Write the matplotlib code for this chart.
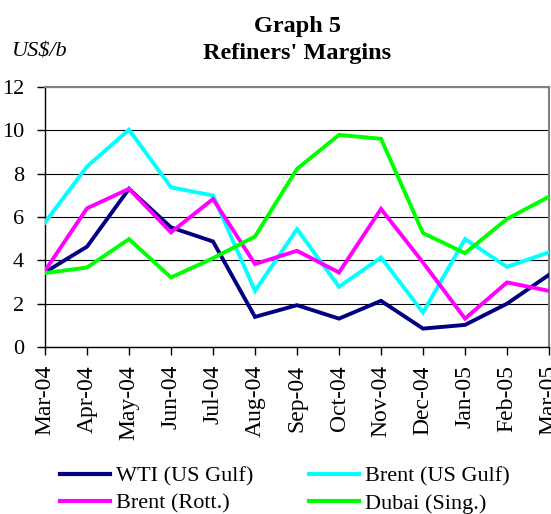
import matplotlib
matplotlib.use("Agg")
import matplotlib.pyplot as plt
from matplotlib.lines import Line2D

months = ["Mar-04", "Apr-04", "May-04", "Jun-04", "Jul-04", "Aug-04", "Sep-04",
          "Oct-04", "Nov-04", "Dec-04", "Jan-05", "Feb-05", "Mar-05"]
wti_us_gulf = [3.45, 4.63, 7.3, 5.52, 4.87, 1.39, 1.93, 1.31, 2.13, 0.85, 1.02, 2.0, 3.33]
brent_us_gulf = [5.75, 8.33, 10.03, 7.37, 6.99, 2.59, 5.44, 2.78, 4.13, 1.59, 4.98, 3.70, 4.37]
brent_rott = [3.52, 6.40, 7.3, 5.29, 6.83, 3.83, 4.44, 3.44, 6.37, 3.9, 1.31, 2.98, 2.59]
dubai_sing = [3.41, 3.67, 4.98, 3.21, 4.1, 5.1, 8.22, 9.79, 9.61, 5.26, 4.33, 5.91, 6.94]
yticks = [0, 2, 4, 6, 8, 10, 12]

series = [
    ("WTI (US Gulf)", wti_us_gulf, "#000080"),
    ("Brent (US Gulf)", brent_us_gulf, "#00FFFF"),
    ("Brent (Rott.)", brent_rott, "#FF00FF"),
    ("Dubai (Sing.)", dubai_sing, "#00FF00"),
]

plt.rcParams['font.family'] = ['Liberation Serif', 'DejaVu Serif']
W, H = 551, 514
fig = plt.figure(figsize=(W / 100, H / 100), dpi=100)
L, R, T, B = 45, 549, 87, 347
ax = fig.add_axes([L / W, 1 - B / H, (R - L) / W, (B - T) / H])

x = list(range(len(months)))
for name, vals, col in series:
    ax.plot(x, vals, color=col, lw=2.8, solid_joinstyle='miter', zorder=3)

ax.set_xlim(0, len(months) - 1)
ax.set_ylim(0, 12)
ax.set_yticks(yticks)
ax.set_yticklabels([str(v) for v in yticks], fontsize=16)
ax.set_xticks(x)
ax.set_xticklabels(months, rotation=90, fontsize=17)
ax.tick_params(axis='both', direction='out', length=6, width=1, color='black')
ax.tick_params(axis='x', pad=7)
ax.tick_params(axis='y', pad=9)
ax.grid(axis='y', color='black', lw=0.8, zorder=1)
ax.set_axisbelow(True)
for s in ['top', 'right']:
    ax.spines[s].set_color('#808080')
    ax.spines[s].set_linewidth(1.5)
for s in ['left', 'bottom']:
    ax.spines[s].set_color('black')
    ax.spines[s].set_linewidth(1)

fig.text(297 / W, 1 - 32 / H, "Graph 5", ha='center', va='baseline', fontsize=17.5, fontweight='bold')
fig.text(297 / W, 1 - 59 / H, "Refiners' Margins", ha='center', va='baseline', fontsize=17.5, fontweight='bold')
fig.text(12 / W, 1 - 56 / H, "US$/b", ha='left', va='baseline', fontsize=16, style='italic')

handles = {n: Line2D([], [], color=c, lw=3) for n, _, c in series}
legend_cols = [(60, ["WTI (US Gulf)", "Brent (Rott.)"]),
               (309, ["Brent (US Gulf)", "Dubai (Sing.)"])]
for xpos, names in legend_cols:
    leg = fig.legend([handles[n] for n in names], names, ncol=1, frameon=False, fontsize=16,
                     loc='center left', bbox_to_anchor=(xpos / W, 1 - 490 / H),
                     borderpad=0, borderaxespad=0, handlelength=2.25, handletextpad=0.25,
                     labelspacing=0.3)

fig.savefig("out.png", dpi=100)
